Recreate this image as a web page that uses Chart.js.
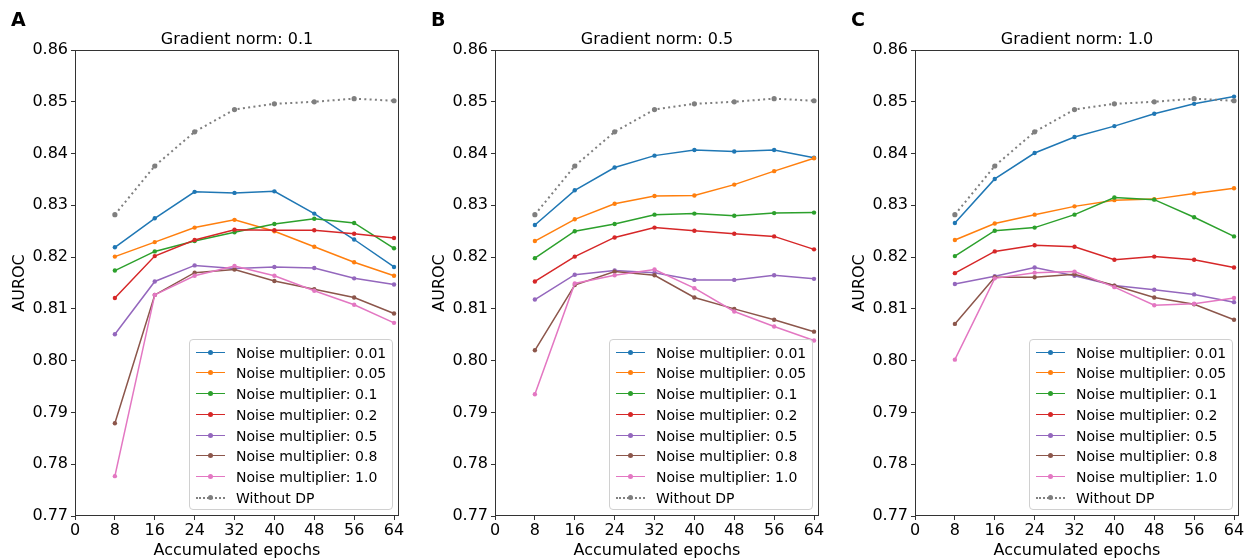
<!DOCTYPE html>
<html lang="en">
<head>
    <meta charset="UTF-8">
    <title>AUROC vs accumulated epochs</title>
    <script src="https://cdn.jsdelivr.net/npm/chart.js"></script>
    <style>
        html, body { margin: 0; padding: 0; background: #fff; overflow: hidden; }
        body { width: 1247px; height: 560px; position: relative; font-family: 'DejaVu Sans', sans-serif; }
        .panel { position: absolute; top: 0; width: 420px; height: 560px; }
        .panel canvas { position: absolute; left: 0; top: 0; }
        .letter { position: absolute; left: 11px; top: 8px; font-size: 19px; font-weight: bold; color: #000; }
        .title { position: absolute; left: 75px; width: 324px; top: 29px; text-align: center; font-size: 16px; line-height: 20px; color: #000; }
        .legend {
            position: absolute; left: 189px; top: 339px; width: 202px; height: 169px;
            border: 1px solid #d0d0d0; border-radius: 4px; background: rgba(255,255,255,0.85);
        }
        .legend .row { position: absolute; left: 0; height: 20px; line-height: 20px; font-size: 14px; color: #000; width: 100%; }
        .legend .mark { position: absolute; left: 6px; width: 29px; top: 9px; height: 0; }
        .legend .dot { position: absolute; left: 12px; top: -2px; width: 5px; height: 5px; border-radius: 50%; }
        .legend .txt { position: absolute; left: 46px; top: 0; white-space: nowrap; }
    </style>
</head>
<body>
    <div class="panel" id="p0" style="left:0"><canvas id="c0" width="420" height="560"></canvas></div>
    <div class="panel" id="p1" style="left:420px"><canvas id="c1" width="420" height="560"></canvas></div>
    <div class="panel" id="p2" style="left:840px"><canvas id="c2" width="420" height="560"></canvas></div>

    <script>
        // x values and series labels
        const epochs = [8, 16, 24, 32, 40, 48, 56, 64];
        const seriesLabels = [
            'Noise multiplier: 0.01',
            'Noise multiplier: 0.05',
            'Noise multiplier: 0.1',
            'Noise multiplier: 0.2',
            'Noise multiplier: 0.5',
            'Noise multiplier: 0.8',
            'Noise multiplier: 1.0',
            'Without DP',
        ];
        const colors = ['#1f77b4', '#ff7f0e', '#2ca02c', '#d62728', '#9467bd', '#8c564b', '#e377c2', '#7f7f7f'];
        const panelLetters = ['A', 'B', 'C'];
        const panelTitles = ['Gradient norm: 0.1', 'Gradient norm: 0.5', 'Gradient norm: 1.0'];
        const yTicks = [0.77, 0.78, 0.79, 0.80, 0.81, 0.82, 0.83, 0.84, 0.85, 0.86];
        const xTicks = [0, 8, 16, 24, 32, 40, 48, 56, 64];

        // same baseline in every panel
        const withoutDP = [0.8282, 0.8376, 0.8442, 0.8485, 0.8496, 0.8500, 0.8506, 0.8502];

        // Gradient norm 0.1
        const a001 = [0.8219, 0.8275, 0.8326, 0.8324, 0.8327, 0.8284, 0.8234, 0.8181];
        const a005 = [0.8201, 0.8229, 0.8257, 0.8272, 0.8250, 0.8220, 0.8190, 0.8164];
        const a01  = [0.8174, 0.8211, 0.8231, 0.8248, 0.8264, 0.8274, 0.8266, 0.8217];
        const a02  = [0.8121, 0.8202, 0.8233, 0.8253, 0.8252, 0.8252, 0.8245, 0.8237];
        const a05  = [0.8051, 0.8153, 0.8184, 0.8178, 0.8181, 0.8179, 0.8159, 0.8147];
        const a08  = [0.7879, 0.8127, 0.8170, 0.8176, 0.8154, 0.8138, 0.8122, 0.8091];
        const a10  = [0.7777, 0.8127, 0.8164, 0.8183, 0.8164, 0.8135, 0.8108, 0.8073];

        // Gradient norm 0.5
        const b001 = [0.8262, 0.8329, 0.8373, 0.8396, 0.8407, 0.8404, 0.8407, 0.8392];
        const b005 = [0.8231, 0.8273, 0.8303, 0.8318, 0.8319, 0.8340, 0.8366, 0.8391];
        const b01  = [0.8198, 0.8250, 0.8264, 0.8282, 0.8284, 0.8280, 0.8285, 0.8286];
        const b02  = [0.8153, 0.8201, 0.8238, 0.8257, 0.8251, 0.8245, 0.8240, 0.8215];
        const b05  = [0.8118, 0.8166, 0.8174, 0.8170, 0.8156, 0.8156, 0.8165, 0.8158];
        const b08  = [0.8020, 0.8146, 0.8172, 0.8165, 0.8122, 0.8100, 0.8079, 0.8056];
        const b10  = [0.7935, 0.8149, 0.8165, 0.8176, 0.8140, 0.8095, 0.8066, 0.8039];

        // Gradient norm 1.0
        const c001 = [0.8266, 0.8351, 0.8401, 0.8432, 0.8453, 0.8477, 0.8496, 0.8510];
        const c005 = [0.8233, 0.8265, 0.8282, 0.8298, 0.8310, 0.8312, 0.8323, 0.8333];
        const c01  = [0.8202, 0.8251, 0.8257, 0.8282, 0.8315, 0.8311, 0.8277, 0.8240];
        const c02  = [0.8169, 0.8211, 0.8223, 0.8220, 0.8195, 0.8201, 0.8195, 0.8180];
        const c05  = [0.8148, 0.8163, 0.8180, 0.8164, 0.8145, 0.8137, 0.8128, 0.8113];
        const c08  = [0.8071, 0.8161, 0.8161, 0.8167, 0.8145, 0.8122, 0.8109, 0.8079];
        const c10  = [0.8002, 0.8159, 0.8170, 0.8172, 0.8142, 0.8107, 0.8110, 0.8121];

        const panels = [
            [a001, a005, a01, a02, a05, a08, a10, withoutDP],
            [b001, b005, b01, b02, b05, b08, b10, withoutDP],
            [c001, c005, c01, c02, c05, c08, c10, withoutDP],
        ];

        Chart.defaults.font.family = "'DejaVu Sans', sans-serif";
        Chart.defaults.color = '#000';

        const spineColor = '#333';

        // box around the plot area (all four spines)
        const framePlugin = {
            id: 'frame',
            afterDraw(chart) {
                const { ctx, chartArea: a } = chart;
                ctx.save();
                ctx.strokeStyle = spineColor;
                ctx.lineWidth = 1;
                ctx.strokeRect(Math.round(a.left) + 0.5, Math.round(a.top) + 0.5,
                    Math.round(a.right - a.left) - 1, Math.round(a.bottom - a.top) - 1);
                ctx.restore();
            }
        };

        function buildLegend(parent) {
            const box = document.createElement('div');
            box.className = 'legend';
            seriesLabels.forEach((label, i) => {
                const row = document.createElement('div');
                row.className = 'row';
                row.style.top = (2.7 + i * 20.7) + 'px';
                const mark = document.createElement('span');
                mark.className = 'mark';
                const dashed = label === 'Without DP';
                mark.style.borderTop = dashed ? '2px dotted ' + colors[i] : '1.5px solid ' + colors[i];
                const dot = document.createElement('span');
                dot.className = 'dot';
                dot.style.background = colors[i];
                dot.style.top = dashed ? '-3.5px' : '-3px';
                mark.appendChild(dot);
                const txt = document.createElement('span');
                txt.className = 'txt';
                txt.textContent = label;
                row.appendChild(mark);
                row.appendChild(txt);
                box.appendChild(row);
            });
            parent.appendChild(box);
        }

        panels.forEach((series, p) => {
            const holder = document.getElementById('p' + p);
            const letter = document.createElement('div');
            letter.className = 'letter';
            letter.textContent = panelLetters[p];
            holder.appendChild(letter);
            const title = document.createElement('div');
            title.className = 'title';
            title.textContent = panelTitles[p];
            holder.appendChild(title);

            const datasets = series.map((vals, i) => {
                const dashed = seriesLabels[i] === 'Without DP';
                return {
                    label: seriesLabels[i],
                    data: vals.map((v, k) => ({ x: epochs[k], y: v })),
                    borderColor: colors[i],
                    backgroundColor: colors[i],
                    borderWidth: dashed ? 2 : 1.5,
                    borderDash: dashed ? [2, 3.3] : [],
                    pointRadius: dashed ? 2.6 : 2.2,
                    pointBorderWidth: 0,
                    pointBackgroundColor: colors[i],
                    tension: 0,
                    fill: false,
                    order: series.length - i,
                };
            });

            new Chart(document.getElementById('c' + p), {
                type: 'line',
                data: { datasets },
                plugins: [framePlugin],
                options: {
                    responsive: false,
                    animation: false,
                    layout: { padding: { left: 0, right: 21, top: 50, bottom: 0 } },
                    scales: {
                        x: {
                            type: 'linear',
                            min: 0,
                            max: 65,
                            afterFit: (s) => { s.height = 44; },
                            afterBuildTicks: (s) => { s.ticks = xTicks.map(v => ({ value: v })); },
                            ticks: { font: { size: 16 }, padding: 1, maxRotation: 0, includeBounds: false,
                                callback: (v) => String(v) },
                            grid: { display: true, drawOnChartArea: false, drawTicks: true, tickLength: 4, color: spineColor },
                            border: { display: false },
                            title: { display: true, text: 'Accumulated epochs', font: { size: 16 }, padding: { top: 0, bottom: 0 } },
                        },
                        y: {
                            type: 'linear',
                            min: 0.77,
                            max: 0.86,
                            afterFit: (s) => { s.width = 75; },
                            afterBuildTicks: (s) => { s.ticks = yTicks.map(v => ({ value: v })); },
                            ticks: { font: { size: 16 }, padding: 3, callback: (v) => Number(v).toFixed(2) },
                            grid: { display: true, drawOnChartArea: false, drawTicks: true, tickLength: 4, color: spineColor },
                            border: { display: false },
                            title: { display: true, text: 'AUROC', font: { size: 16 }, padding: { top: 10, bottom: 0 } },
                        },
                    },
                    plugins: {
                        legend: { display: false },
                        tooltip: { enabled: false },
                    },
                },
            });

            buildLegend(holder);
        });
    </script>
</body>
</html>
